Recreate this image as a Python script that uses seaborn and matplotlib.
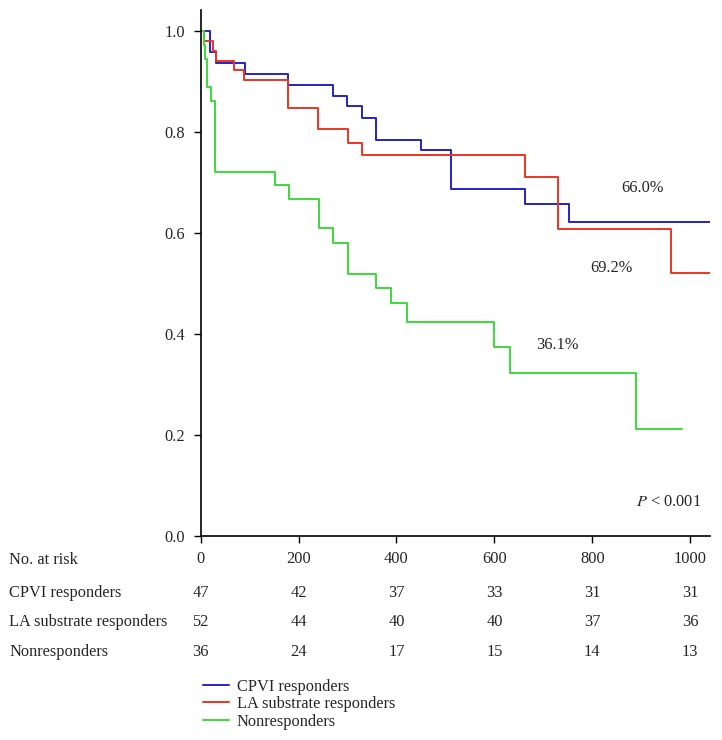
import pandas as pd
import matplotlib
matplotlib.use("Agg")
import matplotlib.pyplot as plt
import matplotlib.transforms as mtransforms
import seaborn as sns

# Kaplan-Meier step data (time in days, survival fraction)
cpvi_t = [0, 19, 31, 90, 179, 271, 299, 330, 359, 451, 511, 662, 752, 1041]
cpvi_s = [1.0, 0.958, 0.937, 0.916, 0.894, 0.871, 0.851, 0.829, 0.784, 0.764, 0.687, 0.657, 0.622, 0.622]

la_t = [0, 7, 25, 31, 67, 88, 179, 240, 301, 330, 662, 730, 961, 1041]
la_s = [1.0, 0.981, 0.961, 0.940, 0.924, 0.904, 0.847, 0.806, 0.778, 0.754, 0.711, 0.609, 0.520, 0.520]

non_t = [0, 7, 9, 13, 20, 29, 151, 180, 241, 271, 300, 359, 388, 422, 600, 631, 890, 983]
non_s = [1.0, 0.972, 0.944, 0.889, 0.861, 0.722, 0.696, 0.667, 0.611, 0.580, 0.519, 0.491, 0.461,
         0.424, 0.375, 0.322, 0.211, 0.211]

groups = ["CPVI responders", "LA substrate responders", "Nonresponders"]
colors = ["#2323cc", "#ee3322", "#3ada3a"]

# numbers at risk
risk_times = [0, 200, 400, 600, 800, 1000]
risk_cpvi = [47, 42, 37, 33, 31, 31]
risk_la = [52, 44, 40, 40, 37, 36]
risk_non = [36, 24, 17, 15, 14, 13]

# build a long table for seaborn
frames = []
for name, t, s in zip(groups, [cpvi_t, la_t, non_t], [cpvi_s, la_s, non_s]):
    frames.append(pd.DataFrame({"time": t, "survival": s, "group": name}))
df = pd.concat(frames, ignore_index=True)

sns.set_style("ticks")
plt.rcParams["font.family"] = ["Liberation Serif", "DejaVu Serif"]
plt.rcParams["mathtext.fontset"] = "stix"
fs = 11.8

fig = plt.figure(figsize=(7.22, 7.40), dpi=100)
ax = fig.add_axes([0.278, 0.2757, 0.705, 0.7108])

sns.lineplot(data=df, x="time", y="survival", hue="group", hue_order=groups,
             palette=dict(zip(groups, colors)), estimator=None, sort=True,
             drawstyle="steps-post", linewidth=1.4, ax=ax)

ax.set_xlim(0, 1040)
ax.set_ylim(0, 1.042)
ax.set_xticks(risk_times)
ax.set_yticks([0.0, 0.2, 0.4, 0.6, 0.8, 1.0])
ax.set_yticklabels([f"{v:.1f}" for v in [0.0, 0.2, 0.4, 0.6, 0.8, 1.0]], fontsize=fs)
ax.set_xticklabels([str(v) for v in risk_times], fontsize=fs)
ax.set_xlabel("")
ax.set_ylabel("")
ax.tick_params(length=5, width=1, color="black", pad=6)
sns.despine(ax=ax)
for sp in ["left", "bottom"]:
    ax.spines[sp].set_color("black")
    ax.spines[sp].set_linewidth(1.2)

# annotations
ax.text(902, 0.689, "66.0%", fontsize=fs, ha="center", va="center")
ax.text(839, 0.531, "69.2%", fontsize=fs, ha="center", va="center")
ax.text(728, 0.378, "36.1%", fontsize=fs, ha="center", va="center")
ax.text(1022, 0.068, r"$P$ < 0.001", fontsize=fs, ha="right", va="center")

# numbers-at-risk table
trans = mtransforms.blended_transform_factory(ax.transData, fig.transFigure)
fig.text(0.013, 1 - 560 / 740, "No. at risk", fontsize=fs, ha="left", va="center")
rows = [("CPVI responders", risk_cpvi, 593),
        ("LA substrate responders", risk_la, 622),
        ("Nonresponders", risk_non, 652)]
for label, vals, ypx in rows:
    yf = 1 - ypx / 740
    fig.text(0.013, yf, label, fontsize=fs, ha="left", va="center")
    for t, n in zip(risk_times, vals):
        ax.text(t, yf, str(n), fontsize=fs, ha="center", va="center", transform=trans)

# legend below the table
handles, labels = ax.get_legend_handles_labels()
ax.legend(handles, labels, loc="upper left", bbox_to_anchor=(0.272, 1 - 672 / 740),
          bbox_transform=fig.transFigure, frameon=False, fontsize=fs,
          handlelength=1.6, handletextpad=0.45, labelspacing=0.1, borderaxespad=0)

fig.savefig("out.png", dpi=100)
